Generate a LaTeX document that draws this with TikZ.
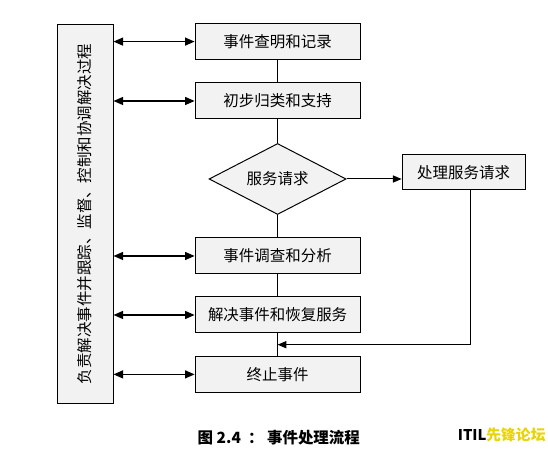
\documentclass[tikz,border=0pt]{standalone}
\usepackage{fontspec}
\newfontfamily\cjk{Noto Sans CJK SC}
\usepackage{xcolor}
\usetikzlibrary{shapes.geometric, arrows.meta, positioning, calc}
\definecolor{boxgray}{HTML}{F2F2F2}
\definecolor{itilyellow}{HTML}{E8D400}
\tikzset{
  procnode/.style={draw=black, fill=boxgray, line width=0.7pt, minimum height=0.9cm, minimum width=4.125cm, align=center, font=\cjk\fontsize{11}{13}\selectfont, inner sep=2pt},
  decisionnode/.style={diamond, draw=black, fill=boxgray, line width=0.7pt, aspect=1.93, minimum width=3.425cm, minimum height=1.775cm, inner sep=1pt, font=\cjk\fontsize{11}{13}\selectfont},
  ownernode/.style={draw=black, fill=boxgray, line width=0.7pt, align=center, font=\cjk\fontsize{11}{13}\selectfont, inner sep=2pt},
  flowline/.style={draw=black, line width=0.7pt},
  arrowline/.style={-{Triangle[length=2.2mm, width=1.8mm]}, draw=black, line width=0.7pt},
  syncline/.style={{Triangle[length=2.4mm, width=2mm]}-{Triangle[length=2.4mm, width=2mm]}, draw=black, line width=1pt},
  captionlabel/.style={font=\cjk\bfseries\fontsize{11}{13}\selectfont, inner sep=1pt}
}
\begin{document}
\begin{tikzpicture}
  \useasboundingbox (0,0) rectangle (13.7,11.3);

  % Main column: incident steps from detection to closure.
  \node[procnode] at (6.94,10.26) (detect) {事件查明和记录};
  \node[procnode] at (6.94,8.775) (classify) {初步归类和支持};
  \node[decisionnode] at (6.94,6.825) (request) {服务请求};
  \node[procnode] at (6.94,4.9) (analyse) {事件调查和分析};
  \node[procnode] at (6.94,3.425) (resolve) {解决事件和恢复服务};
  \node[procnode] at (6.94,1.94) (close) {终止事件};

  % Side branch for plain service requests.
  \node[procnode, minimum width=3.075cm, minimum height=0.875cm] at (11.59,6.99) (service)
    {处理服务请求};

  % Owner box running along the whole process.
  \node[ownernode, rotate=90, minimum width=9.49cm, minimum height=1.4cm] at (2.125,5.95) (owner)
    {负责解决事件并跟踪、监督、控制和协调解决过程};

  \draw[flowline] (detect.south) -- (classify.north);
  \draw[flowline] (classify.south) -- (request.north);
  \draw[flowline] (request.south) -- (analyse.north);
  \draw[flowline] (analyse.south) -- (resolve.north);
  \draw[flowline] (resolve.south) -- (close.north);

  \draw[arrowline] (request.east) -- (request.east -| service.west);
  \coordinate (rejoin) at ($(resolve.south)!0.5!(close.north)$);
  \draw[arrowline] ([xshift=1.6mm]service.south) |- (rejoin);

  \foreach \step in {detect, classify, analyse, resolve, close}
    \draw[syncline] (owner.south |- \step.west) -- (\step.west);

  \node[captionlabel] at (6.97,0.35) (caption) {图 2.4 \ ： 事件处理流程};
  \node[font=\cjk\bfseries\fontsize{10.5}{12}\selectfont, inner sep=1pt, anchor=east] at (13.68,0.42) (brand)
    {ITIL\textcolor{itilyellow}{先锋论坛}};
\end{tikzpicture}
\end{document}
